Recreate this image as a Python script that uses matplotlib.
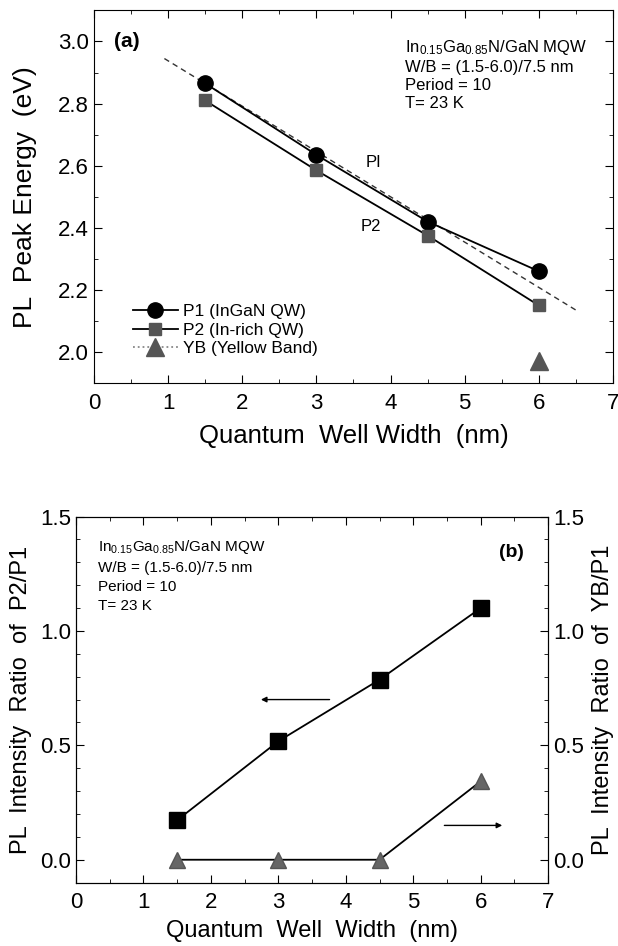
import matplotlib
matplotlib.use("Agg")
import matplotlib.pyplot as plt
from matplotlib.ticker import MultipleLocator

plt.rcParams["font.family"] = ["Liberation Sans", "DejaVu Sans"]
plt.rcParams["mathtext.fontset"] = "custom"
plt.rcParams["mathtext.rm"] = "Liberation Sans"
plt.rcParams["mathtext.it"] = "Liberation Sans"
plt.rcParams["xtick.direction"] = "in"
plt.rcParams["ytick.direction"] = "in"

# (a) peak energies
width = [1.5, 3.0, 4.5, 6.0]
p1_energy = [2.865, 2.635, 2.42, 2.26]
p2_energy = [2.81, 2.585, 2.375, 2.15]
yb_width = [6.0]
yb_energy = [1.97]
fit_x = [0.95, 6.5]
fit_y = [2.945, 2.135]

# (b) intensity ratios
p2_p1 = [0.173, 0.518, 0.787, 1.10]
yb_p1 = [0.0, 0.0, 0.0, 0.343]

info = (r"In$_{\mathrm{0.15}}$Ga$_{\mathrm{0.85}}$N/GaN MQW" "\n"
        "W/B = (1.5-6.0)/7.5 nm\nPeriod = 10\nT= 23 K")

fig = plt.figure(figsize=(6.18, 9.46), dpi=100)

#Panel (a)
ax1 = fig.add_axes([0.152, 0.595, 0.840, 0.394])
ax1.plot(fit_x, fit_y, "--", color="#333333", lw=1.0, dashes=(4, 3))
ax1.plot(width, p1_energy, "-o", color="black", ms=11, lw=1.3, label="P1 (InGaN QW)")
ax1.plot(width, p2_energy, "-s", color="black", mfc="#555555", mec="#555555", ms=9, lw=1.3,
         label="P2 (In-rich QW)")
ax1.plot(yb_width, yb_energy, ":^", color="#888888", mfc="#555555", mec="#555555", ms=13,
         lw=1.3, label="YB (Yellow Band)")
ax1.set_xlim(0, 7)
ax1.set_ylim(1.9, 3.1)
ax1.xaxis.set_major_locator(MultipleLocator(1))
ax1.xaxis.set_minor_locator(MultipleLocator(0.5))
ax1.yaxis.set_major_locator(MultipleLocator(0.2))
ax1.yaxis.set_minor_locator(MultipleLocator(0.1))
ax1.yaxis.set_major_formatter(matplotlib.ticker.FormatStrFormatter("%.1f"))
ax1.tick_params(which="both", top=True, right=True, labelsize=16)
ax1.tick_params(axis="x", pad=7)
ax1.tick_params(which="major", length=6)
ax1.tick_params(which="minor", length=3)
ax1.set_xlabel("Quantum  Well Width  (nm)", fontsize=18.5, labelpad=7)
ax1.set_ylabel("PL  Peak Energy  (eV)", fontsize=19, labelpad=15)
ax1.text(0.27, 3.0, "(a)", fontsize=15, fontweight="bold", va="center")
ax1.text(3.66, 2.61, "PI", fontsize=12, va="center")
ax1.text(3.6, 2.405, "P2", fontsize=12, va="center")
ax1.text(4.2, 3.01, info, fontsize=12, va="top", linespacing=1.25)
ax1.legend(loc="lower left", bbox_to_anchor=(0.045, 0.03), frameon=False, fontsize=12.5,
           handlelength=2.6, handletextpad=0.3, labelspacing=0.2)

#Panel (b)
ax2 = fig.add_axes([0.123, 0.067, 0.764, 0.387])
ax2.plot(width, p2_p1, "-s", color="black", ms=11, lw=1.3)
ax2.set_xlim(0, 7)
ax2.set_ylim(-0.1, 1.5)
ax2.xaxis.set_major_locator(MultipleLocator(1))
ax2.xaxis.set_minor_locator(MultipleLocator(0.5))
ax2.yaxis.set_major_locator(MultipleLocator(0.5))
ax2.yaxis.set_minor_locator(MultipleLocator(0.1))
ax2.tick_params(which="both", top=True, labelsize=16)
ax2.tick_params(axis="x", pad=7)
ax2.tick_params(which="major", length=6)
ax2.tick_params(which="minor", length=3)
ax2.set_xlabel("Quantum  Well  Width  (nm)", fontsize=17, labelpad=5)
ax2.set_ylabel("PL  Intensity  Ratio  of  P2/P1", fontsize=17, labelpad=6)
ax2.text(0.33, 1.405, info, fontsize=11, va="top", linespacing=1.45)
ax2.text(6.45, 1.343, "(b)", fontsize=14, fontweight="bold", ha="center", va="center")
ax2.annotate("", xy=(2.7, 0.70), xytext=(3.8, 0.70),
             arrowprops=dict(arrowstyle="-|>", color="black", lw=1.0, mutation_scale=8))
ax2.annotate("", xy=(6.36, 0.15), xytext=(5.42, 0.15),
             arrowprops=dict(arrowstyle="-|>", color="black", lw=1.0, mutation_scale=8))

ax3 = ax2.twinx()
ax3.plot(width, yb_p1, "-^", color="black", mfc="#666666", mec="#555555", ms=12, lw=1.3)
ax3.set_ylim(-0.1, 1.5)
ax3.yaxis.set_major_locator(MultipleLocator(0.5))
ax3.yaxis.set_minor_locator(MultipleLocator(0.1))
ax3.tick_params(which="both", labelsize=16)
ax3.tick_params(which="major", length=6)
ax3.tick_params(which="minor", length=3)
ax3.set_ylabel("PL  Intensity  Ratio  of  YB/P1", fontsize=17, labelpad=6)

fig.savefig("out.png", dpi=100)
